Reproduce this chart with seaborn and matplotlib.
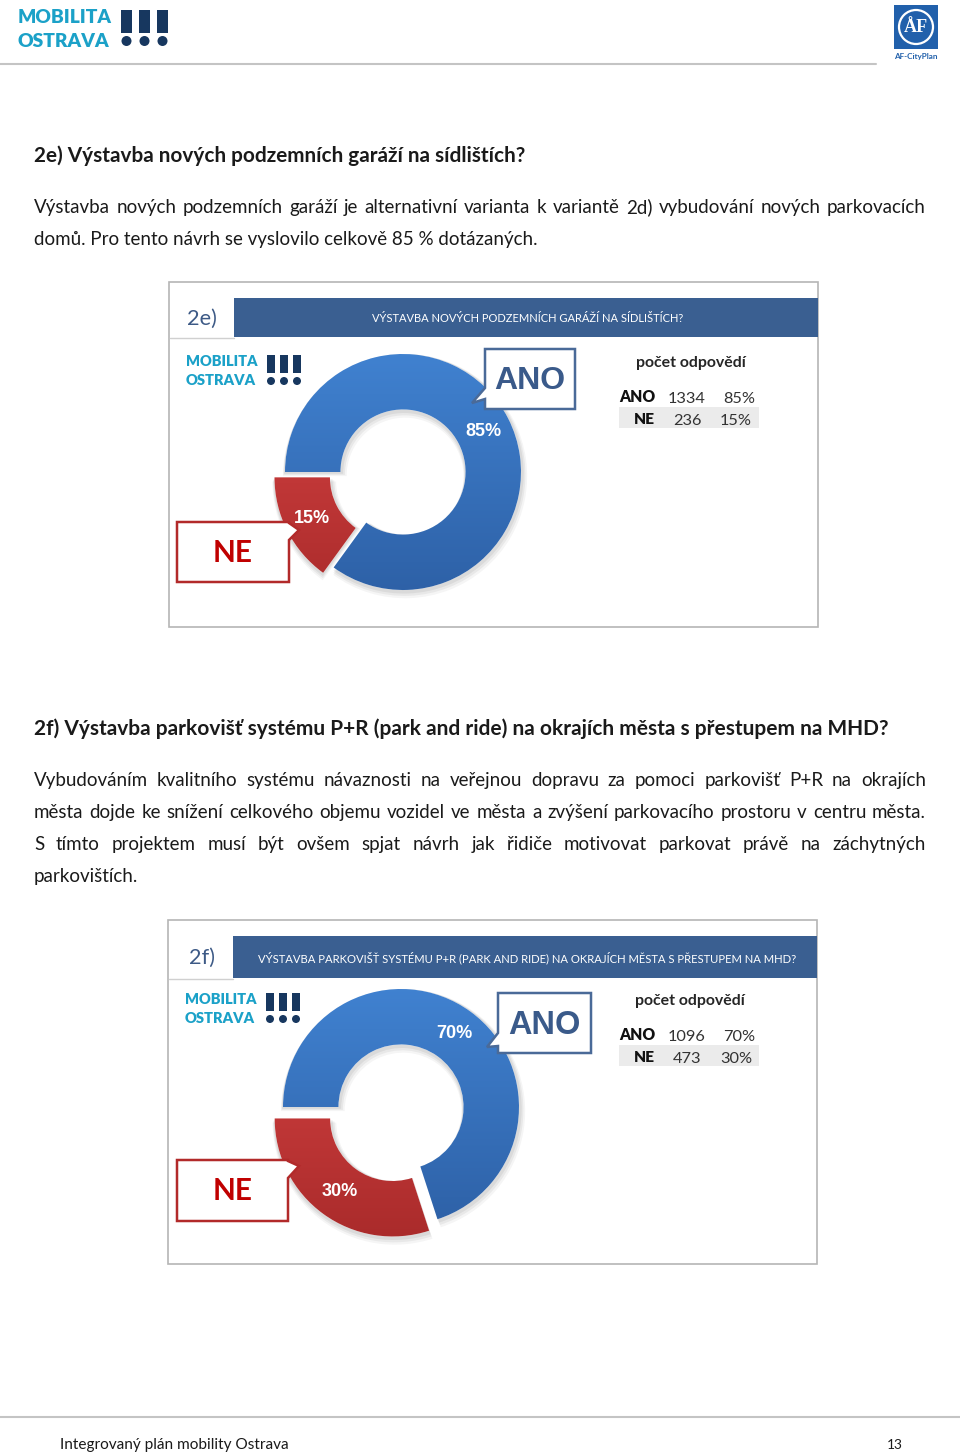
import numpy as np
import matplotlib
matplotlib.use('Agg')
import matplotlib.pyplot as plt
import seaborn as sns
from matplotlib.patches import Rectangle, Polygon, Circle
from matplotlib.colors import LinearSegmentedColormap

# ---------------- data ----------------
answers = ['ANO', 'NE']
counts_2e = [1334, 236]
pct_2e = [85, 15]
counts_2f = [1096, 473]
pct_2f = [70, 30]
chart_ids = ['2e)', '2f)']
chart_titles = ['VÝSTAVBA NOVÝCH PODZEMNÍCH GARÁŽÍ NA SÍDLIŠTÍCH?',
                'VÝSTAVBA PARKOVIŠŤ SYSTÉMU P+R (PARK AND RIDE) NA OKRAJÍCH MĚSTA S PŘESTUPEM NA MHD?']
table_header = 'počet odpovědí'
heading_2e = '2e) Výstavba nových podzemních garáží na sídlištích?'
para_2e = ['Výstavba nových podzemních garáží je alternativní varianta k variantě 2d) vybudování nových parkovacích',
           'domů. Pro tento návrh se vyslovilo celkově 85 % dotázaných.']
heading_2f = '2f) Výstavba parkovišť systému P+R (park and ride) na okrajích města s přestupem na MHD?'
para_2f = ['Vybudováním kvalitního systému návaznosti na veřejnou dopravu za pomoci parkovišť P+R na okrajích',
           'města dojde ke snížení celkového objemu vozidel ve města a zvýšení parkovacího prostoru v centru města.',
           'S tímto projektem musí být ovšem spjat návrh jak řidiče motivovat parkovat právě na záchytných',
           'parkovištích.']
footer_left = 'Integrovaný plán mobility Ostrava'
footer_right = '13'

# ---------------- style ----------------
sns.set_theme(style='white')
plt.rcParams['font.family'] = ['Lato', 'DejaVu Sans']

TEAL = '#1ba1c8'
NAVY = '#17375f'
BAR = '#3a5f91'
BLUE_T, BLUE_B = '#4183d2', '#2c5ea3'
RED_T, RED_B = '#da4545', '#a82a2a'
TXT = '#1a1a1a'

W, H = 960, 1454
fig = plt.figure(figsize=(W / 100, H / 100), dpi=100)
bg = fig.add_axes([0, 0, 1, 1])
bg.set_xlim(0, W)
bg.set_ylim(H, 0)
bg.axis('off')
renderer = fig.canvas.get_renderer()


def fit(ax, x, y, s, width, size0=12, **kw):
    t = ax.text(x, y, s, fontsize=size0, **kw)
    bb = t.get_window_extent(renderer=renderer)
    t.set_fontsize(size0 * width / bb.width)
    return t


def measure(ax, s, fs, **kw):
    t = ax.text(0, 0, s, fontsize=fs, **kw)
    w = t.get_window_extent(renderer=renderer).width
    t.remove()
    return w


def justify(ax, x0, x1, y, s, fs, **kw):
    words = s.split(' ')
    ws = [measure(ax, w, fs, **kw) for w in words]
    gap = (x1 - x0 - sum(ws)) / (len(words) - 1)
    x = x0
    for w, wd in zip(words, ws):
        ax.text(x, y, w, fontsize=fs, va='baseline', ha='left', **kw)
        x += wd + gap


LOGO_FONT = ['Lato', 'DejaVu Sans']


def logo(ax, x0, y1, y2, w_text, bx, bw, bgap, by0, by1, dy, dr, fs0):
    fit(ax, x0, y1, 'MOBILITA', w_text, fs0, color=TEAL, weight='heavy', va='baseline',
        family=LOGO_FONT)
    fit(ax, x0, y2, 'OSTRAVA', w_text * 0.98, fs0, color=TEAL, weight='heavy', va='baseline',
        family=LOGO_FONT)
    for i in range(3):
        xx = bx + i * (bw + bgap)
        ax.add_patch(Rectangle((xx, by0), bw, by1 - by0, color=NAVY, lw=0))
        ax.add_patch(Circle((xx + bw / 2, dy), dr, color=NAVY, lw=0))


# ---------------- page header ----------------
logo(bg, 18, 23, 47, 94, 121, 11, 7, 10, 33, 41, 5, 14)
bg.plot([0, 876], [64, 64], color='#c4c4c4', lw=1.5)
bg.add_patch(Rectangle((894, 5), 44, 44, color='#2160ab', lw=0))
bg.add_patch(Circle((916, 27), 17, fill=False, ec='white', lw=1.6))
bg.text(916, 28, 'ÅF', color='white', fontsize=13, weight='bold', ha='center', va='center',
        family=['Liberation Serif', 'DejaVu Serif'])
fit(bg, 916, 59, 'AF-CityPlan', 44, 7, color='#2160ab', weight='bold', ha='center', va='baseline')

# ---------------- page text ----------------
t = fit(bg, 34, 245, para_2e[1], 503, 12, color=TXT, va='baseline')
fs_body = t.get_fontsize()
fit(bg, 34, 162, heading_2e, 490, 12, color=TXT, weight='bold', va='baseline')
justify(bg, 34, 926, 213, para_2e[0], fs_body, color=TXT)

fit(bg, 34, 735, heading_2f, 850, 12, color=TXT, weight='bold', va='baseline')
justify(bg, 34, 926, 786, para_2f[0], fs_body, color=TXT)
justify(bg, 34, 926, 818, para_2f[1], fs_body, color=TXT)
justify(bg, 34, 926, 850, para_2f[2], fs_body, color=TXT)
bg.text(34, 882, para_2f[3], fontsize=fs_body, color=TXT, va='baseline')

# footer
bg.plot([0, 960], [1417, 1417], color='#c4c4c4', lw=1.5)
fit(bg, 60, 1449, footer_left, 229, 11, color=TXT, va='baseline')
fit(bg, 903, 1449, footer_right, 16, 11, color=TXT, va='baseline', ha='right')


def make_overlay():
    ov = fig.add_axes([0, 0, 1, 1])
    ov.set_xlim(0, W)
    ov.set_ylim(H, 0)
    ov.axis('off')
    ov.patch.set_alpha(0)
    return ov


# ---------------- charts ----------------
def draw_chart(k, pcts, counts, box, bar, id_x, title_w, cx, cy, R, explode,
               ano_box, ano_tip, ano_base, ne_box, ne_tip, ne_base, logo_xy, tab):
    x0, y0, x1, y1 = box
    bg.add_patch(Rectangle((x0, y0), x1 - x0, y1 - y0, fill=False, ec='#b5b5b5', lw=1.2))
    bx0, by0, bx1, by1 = bar
    bg.add_patch(Rectangle((bx0, by0), bx1 - bx0, by1 - by0, color=BAR, lw=0))
    bg.plot([x0 + 1, bx0], [by1 + 1, by1 + 1], color='#d0d0d0', lw=1)
    fit(bg, id_x, (by0 + by1) / 2 + 1, chart_ids[k], 30 if k == 0 else 26, 16,
        color='#3d5a86', va='center')
    fit(bg, (bx0 + bx1) / 2 + 2, (by0 + by1) / 2 + 1, chart_titles[k], title_w, 8,
        color='white', ha='center', va='center')
    logo(bg, logo_xy[0], logo_xy[1], logo_xy[1] + 19, 72, logo_xy[0] + 81, 8, 5,
         logo_xy[1] - 11, logo_xy[1] + 7, logo_xy[1] + 15, 4, 10)

    # donut
    L = 1.45
    ax = fig.add_axes([(cx - L * R) / W, 1 - (cy + L * R) / H, 2 * L * R / W, 2 * L * R / H])
    ax.axis('off')
    # soft shadow underneath
    for off, al in [(0.035, 0.04), (0.025, 0.05), (0.015, 0.06)]:
        sw, _ = ax.pie(pcts, startangle=180, counterclock=False, explode=[0, explode],
                       radius=1 + off, center=(off * 0.5, -off),
                       wedgeprops=dict(width=0.47 + 2 * off, lw=0, fc='black', alpha=al))
        for s in sw:
            s.set_zorder(0.1)
    wedges, texts, autotexts = ax.pie(
        pcts, startangle=180, counterclock=False, explode=[0, explode], radius=1,
        wedgeprops=dict(width=0.47, lw=0), autopct='%d%%', pctdistance=0.765,
        textprops=dict(color='white', weight='bold', fontsize=13,
                       family=['Liberation Sans', 'DejaVu Sans']))
    grad = np.linspace(0, 1, 256)[:, None]
    for wdg, (ct, cb) in zip(wedges, [(BLUE_T, BLUE_B), (RED_T, RED_B)]):
        cmap = LinearSegmentedColormap.from_list('g', [ct, cb])
        wdg.set_facecolor('white')
        wdg.set_zorder(0.3)
        im = ax.imshow(grad, cmap=cmap, extent=(-1.2, 1.2, -1.2, 1.1), aspect='auto',
                       origin='upper', zorder=0.5)
        im.set_clip_path(wdg)
    ax.set_xlim(-L, L)
    ax.set_ylim(-L, L)
    for a in autotexts:
        a.set_zorder(5)

    # callouts (on overlay above the donut)
    ov = make_overlay()
    ov.set_zorder(10)
    ax0, ay0, ax1, ay1 = ano_box
    pts = [(ax0, ay0), (ax1, ay0), (ax1, ay1), (ax0, ay1), (ax0, ano_base[1]), ano_tip,
           (ax0, ano_base[0])]
    ov.add_patch(Polygon(pts, closed=True, fc='white', ec='#4a6a98', lw=1.8))
    fit(ov, (ax0 + ax1) / 2, (ay0 + ay1) / 2 + 2, answers[0], 71 if k == 0 else 72, 20,
        color='#3a5a8a', weight='bold', ha='center', va='center',
        family=['Liberation Sans', 'DejaVu Sans'])
    nx0, ny0, nx1, ny1 = ne_box
    pts = [(nx0, ny0), (nx1, ny0), (nx1, ne_base[0]), ne_tip, (nx1, ne_base[1]), (nx1, ny1),
           (nx0, ny1)]
    ov.add_patch(Polygon(pts, closed=True, fc='white', ec='#b22a2a', lw=1.8))
    fit(ov, (nx0 + nx1) / 2, (ny0 + ny1) / 2 + 1, answers[1], 40, 20,
        color='#c00000', weight='bold', ha='center', va='center')

    # table
    tx, ty = tab
    fit(ov, tx, ty, table_header, 110, 11, color='#262626', weight='bold', ha='center',
        va='baseline')
    ov.add_patch(Rectangle((619, ty + 40), 140, 21, color='#ebebeb', lw=0))
    fit(ov, 655, ty + 35, answers[0], 36, 11, color='#111111', weight='heavy', ha='right',
        va='baseline')
    fit(ov, 655, ty + 57, answers[1], 21, 11, color='#111111', weight='heavy', ha='right',
        va='baseline')
    t1 = fit(ov, 687, ty + 36, str(counts[0]), 38, 11, color='#333333', ha='center',
             va='baseline')
    fs_n = t1.get_fontsize()
    ov.text(687, ty + 58, str(counts[1]), fontsize=fs_n, color='#333333', ha='center',
            va='baseline')
    ov.text(739, ty + 36, f'{pcts[0]}%', fontsize=fs_n, color='#333333', ha='center',
            va='baseline')
    ov.text(736, ty + 58, f'{pcts[1]}%', fontsize=fs_n, color='#333333', ha='center',
            va='baseline')


# chart 2e
draw_chart(0, pct_2e, counts_2e, (169, 282, 818, 627), (234, 298, 818, 337), 187, 311,
           403, 472, 118, 0.10,
           (485, 349, 575, 409), (472, 403), (388, 399),
           (177, 522, 289, 582), (299, 530), (523, 540),
           (186, 366), (691, 367))

# chart 2f
draw_chart(1, pct_2f, counts_2f, (168, 920, 817, 1264), (233, 936, 817, 978), 189, 543,
           401, 1107, 118, 0.12,
           (498, 993, 591, 1053), (487, 1047), (1033, 1046),
           (177, 1160, 288, 1221), (299, 1166), (1161, 1178),
           (185, 1004), (690, 1005))

fig.savefig('out.png', dpi=100)
